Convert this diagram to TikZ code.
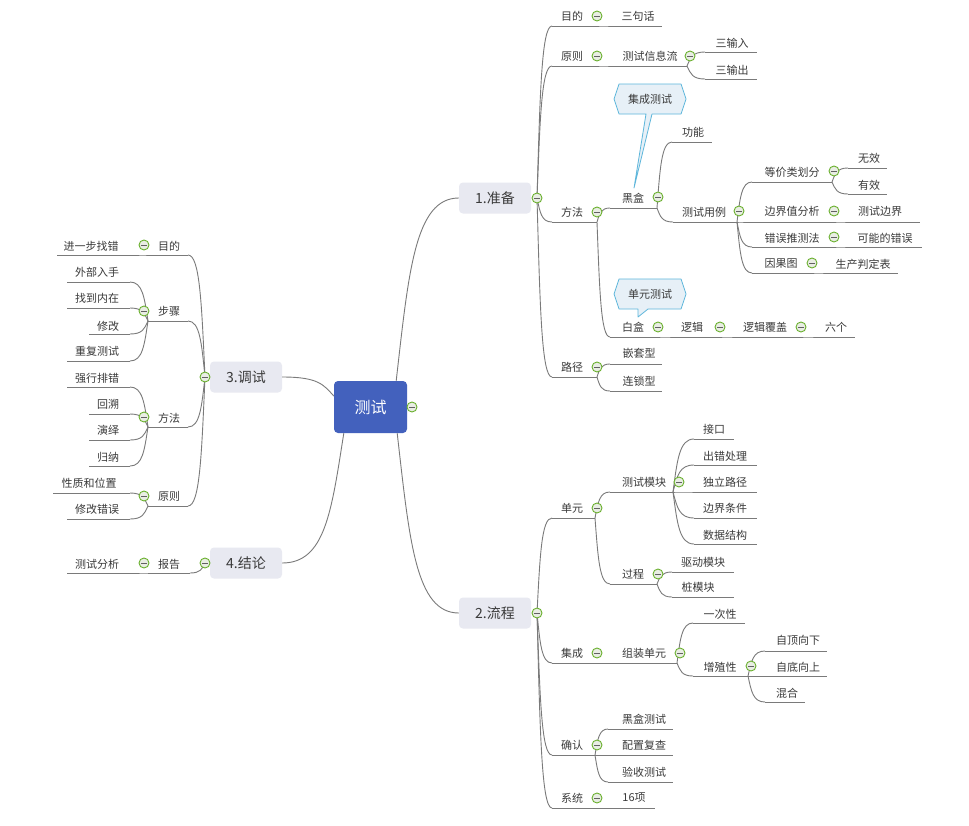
\documentclass[tikz,border=0pt]{standalone}
\usepackage{fontspec}
\setmainfont{Noto Sans CJK SC}
\usetikzlibrary{calc}
\definecolor{lncol}{HTML}{7A7A7A}
\definecolor{txcol}{HTML}{3A3A3A}
\definecolor{mainfill}{HTML}{E8E9F1}
\definecolor{rootfill}{HTML}{4361BD}
\definecolor{ccgreen}{HTML}{6AB02E}
\definecolor{ccfill}{HTML}{E9EDE4}
\definecolor{notefill}{HTML}{E7F0F7}
\definecolor{notedraw}{HTML}{5DB6DB}
\tikzset{
 conn/.style={draw=lncol, line width=0.9pt},
 txt/.style={font=\fontsize{11}{13}\selectfont, text=txcol, inner sep=0pt},
 mainbox/.style={rounded corners=4pt, fill=mainfill, minimum width=72pt, minimum height=31pt, font=\fontsize{14}{16}\selectfont, text=txcol, inner sep=0pt},
 rootbox/.style={rounded corners=4pt, fill=rootfill, minimum width=73pt, minimum height=52pt, font=\fontsize{16}{18}\selectfont, text=white, inner sep=0pt},
 ccirc/.style={circle, draw=ccgreen, fill=ccfill, line width=0.9pt, minimum size=10pt, inner sep=0pt,
   path picture={\draw[txcol!80, line width=0.9pt] ([xshift=-2.6pt]path picture bounding box.center) -- ([xshift=2.6pt]path picture bounding box.center);}},
 note/.style={draw=notedraw, fill=notefill, line width=0.8pt, line join=round},
}
\newcommand\mmtp[6]{\node[txt] (#1) at (#2) {#3};\coordinate (#1-s) at (#4,#6);\coordinate (#1-e) at (#5,#6);\draw[conn] (#1-s) -- (#1-e);}
\newcommand\mmlk[2]{\draw[conn] let \p1=(#1),\p2=(#2) in (\p1) .. controls ({\x1+0.2*(\x2-\x1)},{\y1+0.6*(\y2-\y1)}) and ({\x1+0.3*(\x2-\x1)},{\y2}) .. (\p2);}
\newcommand\mmcc[2]{\node[ccirc] (#1) at (#2) {};}
\begin{document}
\begin{tikzpicture}[x=1pt,y=-1pt]
\fill[white] (0,0) rectangle (969,825);
\useasboundingbox (0,0) rectangle (969,825);

% main nodes
\node[rootbox] (ce) at (370.5,407) {测试};
\node[mainbox] (zhunbei) at (495,198) {1.准备};
\node[mainbox] (liucheng) at (495,613) {2.流程};
\node[mainbox] (tiaoshi) at (246,377) {3.调试};
\node[mainbox] (jielun) at (246,563) {4.结论};
\coordinate (ce-a) at ([xshift=-11pt]ce.north east);
\coordinate (ce-b) at ([xshift=-10pt]ce.south east);
\coordinate (ce-c) at ([yshift=11pt]ce.west);
\coordinate (ce-d) at ([xshift=10pt]ce.south west);
\coordinate (zhunbei-j) at (537,198);
\coordinate (liucheng-j) at (537,613);
\coordinate (tiaoshi-j) at (205,377);
\coordinate (jielun-j) at (205,563);

% callouts
\draw[note] (614,99) -- (619,84) -- (681,84) -- (686,99) -- (681,114) -- (652,114) -- (634,188) -- (646,114) -- (619,114) -- cycle;
\node[txt] (jcnote) at (650,99) {集成测试};
\draw[note] (614,294) -- (619,279) -- (681,279) -- (686,294) -- (681,309) -- (648,309) -- (638,317) -- (638,309) -- (619,309) -- cycle;
\node[txt] (dynote) at (650,294) {单元测试};

% branch 1
\mmtp{mudi}{572,16}{目的}{552}{597}{26}
\mmtp{sanju}{638,16}{三句话}{610}{662}{26}
\mmtp{yuanze}{572,56}{原则}{552}{597}{66}
\mmtp{xinxi}{650,56}{测试信息流}{610}{687}{66}
\mmtp{shuru}{732,43}{三输入}{705}{757}{52}
\mmtp{shuchu}{732,70}{三输出}{705}{757}{79}
\mmtp{fangfa}{572,212}{方法}{552}{597}{222}
\mmtp{heihe}{633,198}{黑盒}{610}{657}{208}
\mmtp{gongneng}{693,132}{功能}{672}{712}{142}
\mmtp{yongli}{704,212}{测试用例}{673}{737}{222}
\mmtp{dengjia}{792,172}{等价类划分}{752}{832}{182}
\mmtp{wuxiao}{869,158}{无效}{848}{887}{168}
\mmtp{youxiao}{869,185}{有效}{848}{887}{194}
\mmtp{bianjie}{792,211}{边界值分析}{745}{834}{222}
\mmtp{bjtest}{880,211}{测试边界}{847}{920}{222}
\mmtp{cuowu}{792,238}{错误推测法}{752}{834}{247}
\mmtp{kenengcuowu}{885,238}{可能的错误}{847}{922}{247}
\mmtp{yinguo}{781,264}{因果图}{752}{812}{273}
\mmtp{shengchan}{863,264}{生产判定表}{825}{898}{273}
\mmtp{baihe}{633,327}{白盒}{610}{658}{337}
\mmtp{luoji}{692,327}{逻辑}{672}{720}{337}
\mmtp{fugai}{765,327}{逻辑覆盖}{734}{801}{337}
\mmtp{liuge}{836,327}{六个}{815}{855}{337}
\mmtp{lujing}{572,367}{路径}{552}{597}{377}
\mmtp{qiantao}{639,353}{嵌套型}{610}{662}{364}
\mmtp{liansuo}{639,381}{连锁型}{610}{662}{391}

% branch 2
\mmtp{danyuan}{572,508}{单元}{552}{595}{518}
\mmtp{mokuai}{644,482}{测试模块}{610}{673}{492}
\mmtp{jiekou}{714,429}{接口}{694}{734}{439}
\mmtp{chucuo}{725,456}{出错处理}{694}{757}{465}
\mmtp{duli}{725,482}{独立路径}{694}{757}{492}
\mmtp{bianjietj}{725,508}{边界条件}{694}{757}{518}
\mmtp{shuju}{725,535}{数据结构}{694}{757}{544}
\mmtp{guocheng}{633,574}{过程}{610}{657}{584}
\mmtp{qudong}{703,562}{驱动模块}{672}{734}{572}
\mmtp{zhuang}{698,587}{桩模块}{672}{734}{597}
\mmtp{jicheng}{572,653}{集成}{552}{597}{663}
\mmtp{zuzhuang}{644,653}{组装单元}{610}{677}{663}
\mmtp{yicixing}{720,614}{一次性}{693}{745}{623}
\mmtp{zengzhi}{720,667}{增殖性}{693}{748}{676}
\mmtp{zidingxiang}{798,640}{自顶向下}{765}{827}{651}
\mmtp{zidixiang}{798,667}{自底向上}{760}{827}{676}
\mmtp{hunhe}{787,693}{混合}{765}{805}{702}
\mmtp{queren}{572,745}{确认}{552}{595}{755}
\mmtp{heihetest}{644,719}{黑盒测试}{608}{673}{729}
\mmtp{peizhi}{644,745}{配置复查}{608}{673}{755}
\mmtp{yanshou}{644,772}{验收测试}{608}{673}{782}
\mmtp{xitong}{572,798}{系统}{552}{597}{808}
\mmtp{shiliu}{634,798}{16项}{610}{655}{808}

% branch 3
\mmtp{tmudi}{169,246}{目的}{188}{148}{255}
\mmtp{jinyibu}{91,246}{进一步找错}{138}{57}{255}
\mmtp{buzhou}{169,311}{步骤}{188}{148}{321}
\mmtp{waibu}{97,272}{外部入手}{130}{67}{282}
\mmtp{zhaodao}{97,298}{找到内在}{130}{67}{308}
\mmtp{xiugai}{108,326}{修改}{130}{89}{334}
\mmtp{chongfu}{97,351}{重复测试}{130}{67}{361}
\mmtp{tfangfa}{169,418}{方法}{188}{148}{427}
\mmtp{qiangxing}{97,378}{强行排错}{130}{67}{387}
\mmtp{huisu}{108,404}{回溯}{130}{89}{414}
\mmtp{yanyi}{108,430}{演绎}{130}{89}{440}
\mmtp{guina}{108,457}{归纳}{130}{89}{466}
\mmtp{tyuanze}{169,496}{原则}{188}{148}{506}
\mmtp{xingzhi}{89,483}{性质和位置}{130}{53}{493}
\mmtp{xiugaicw}{97,509}{修改错误}{130}{67}{519}

% branch 4
\mmtp{baogao}{169,564}{报告}{190}{150}{573}
\mmtp{fenxi}{97,564}{测试分析}{138}{67}{573}

% root links
\mmlk{ce-a}{zhunbei.west}
\mmlk{ce-b}{liucheng.west}
\mmlk{ce-c}{tiaoshi.east}
\mmlk{ce-d}{jielun.east}

% branch 1 links
\mmlk{zhunbei-j}{mudi-s}
\mmlk{zhunbei-j}{yuanze-s}
\mmlk{zhunbei-j}{fangfa-s}
\mmlk{zhunbei-j}{lujing-s}
\mmlk{mudi-e}{sanju-s}
\mmlk{yuanze-e}{xinxi-s}
\mmlk{xinxi-e}{shuru-s}
\mmlk{xinxi-e}{shuchu-s}
\mmlk{fangfa-e}{heihe-s}
\mmlk{fangfa-e}{baihe-s}
\mmlk{heihe-e}{gongneng-s}
\mmlk{heihe-e}{yongli-s}
\mmlk{yongli-e}{dengjia-s}
\mmlk{yongli-e}{bianjie-s}
\mmlk{yongli-e}{cuowu-s}
\mmlk{yongli-e}{yinguo-s}
\mmlk{dengjia-e}{wuxiao-s}
\mmlk{dengjia-e}{youxiao-s}
\mmlk{bianjie-e}{bjtest-s}
\mmlk{cuowu-e}{kenengcuowu-s}
\mmlk{yinguo-e}{shengchan-s}
\mmlk{baihe-e}{luoji-s}
\mmlk{luoji-e}{fugai-s}
\mmlk{fugai-e}{liuge-s}
\mmlk{lujing-e}{qiantao-s}
\mmlk{lujing-e}{liansuo-s}

% branch 2 links
\mmlk{liucheng-j}{danyuan-s}
\mmlk{liucheng-j}{jicheng-s}
\mmlk{liucheng-j}{queren-s}
\mmlk{liucheng-j}{xitong-s}
\mmlk{danyuan-e}{mokuai-s}
\mmlk{danyuan-e}{guocheng-s}
\mmlk{mokuai-e}{jiekou-s}
\mmlk{mokuai-e}{chucuo-s}
\mmlk{mokuai-e}{duli-s}
\mmlk{mokuai-e}{bianjietj-s}
\mmlk{mokuai-e}{shuju-s}
\mmlk{guocheng-e}{qudong-s}
\mmlk{guocheng-e}{zhuang-s}
\mmlk{jicheng-e}{zuzhuang-s}
\mmlk{zuzhuang-e}{yicixing-s}
\mmlk{zuzhuang-e}{zengzhi-s}
\mmlk{zengzhi-e}{zidingxiang-s}
\mmlk{zengzhi-e}{zidixiang-s}
\mmlk{zengzhi-e}{hunhe-s}
\mmlk{queren-e}{heihetest-s}
\mmlk{queren-e}{peizhi-s}
\mmlk{queren-e}{yanshou-s}
\mmlk{xitong-e}{shiliu-s}

% branch 3 links
\mmlk{tiaoshi-j}{tmudi-s}
\mmlk{tiaoshi-j}{buzhou-s}
\mmlk{tiaoshi-j}{tfangfa-s}
\mmlk{tiaoshi-j}{tyuanze-s}
\mmlk{tmudi-e}{jinyibu-s}
\mmlk{buzhou-e}{waibu-s}
\mmlk{buzhou-e}{zhaodao-s}
\mmlk{buzhou-e}{xiugai-s}
\mmlk{buzhou-e}{chongfu-s}
\mmlk{tfangfa-e}{qiangxing-s}
\mmlk{tfangfa-e}{huisu-s}
\mmlk{tfangfa-e}{yanyi-s}
\mmlk{tfangfa-e}{guina-s}
\mmlk{tyuanze-e}{xingzhi-s}
\mmlk{tyuanze-e}{xiugaicw-s}

% branch 4 links
\mmlk{jielun-j}{baogao-s}
\mmlk{baogao-e}{fenxi-s}

% collapse circles
\mmcc{ce-cc}{412,407}
\mmcc{zhunbei-cc}{537,198}
\mmcc{liucheng-cc}{537,613}
\mmcc{tiaoshi-cc}{205,377}
\mmcc{jielun-cc}{205,563}
\mmcc{mudi-cc}{597,16}
\mmcc{yuanze-cc}{597,56}
\mmcc{xinxi-cc}{690,56}
\mmcc{fangfa-cc}{597,212}
\mmcc{heihe-cc}{658,197}
\mmcc{yongli-cc}{739,211}
\mmcc{dengjia-cc}{834,171}
\mmcc{bianjie-cc}{834,211}
\mmcc{cuowu-cc}{834,237}
\mmcc{yinguo-cc}{812,263}
\mmcc{baihe-cc}{658,327}
\mmcc{luoji-cc}{720,327}
\mmcc{fugai-cc}{801,327}
\mmcc{lujing-cc}{597,367}
\mmcc{danyuan-cc}{597,508}
\mmcc{mokuai-cc}{679,482}
\mmcc{guocheng-cc}{658,574}
\mmcc{jicheng-cc}{597,653}
\mmcc{zuzhuang-cc}{680,653}
\mmcc{zengzhi-cc}{751,666}
\mmcc{queren-cc}{597,745}
\mmcc{xitong-cc}{597,798}
\mmcc{tmudi-cc}{144,245}
\mmcc{buzhou-cc}{144,311}
\mmcc{tfangfa-cc}{144,417}
\mmcc{tyuanze-cc}{144,496}
\mmcc{baogao-cc}{144,563}
\end{tikzpicture}
\end{document}
